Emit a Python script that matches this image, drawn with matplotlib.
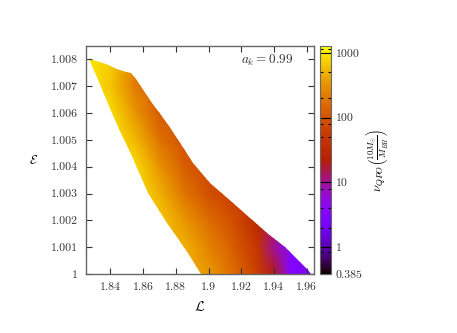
import numpy as np
import matplotlib
matplotlib.use("Agg")
import matplotlib.pyplot as plt
from matplotlib.colors import LogNorm
from matplotlib.patches import Polygon
from matplotlib.ticker import FixedLocator, NullFormatter

plt.rcParams['font.family'] = 'serif'
plt.rcParams['font.serif'] = ['cmr10', 'DejaVu Serif']
plt.rcParams['mathtext.fontset'] = 'cm'
plt.rcParams['axes.unicode_minus'] = False

# ---- data ----
L_grid = [1.825, 1.84, 1.855, 1.87, 1.885, 1.90, 1.915, 1.93, 1.94, 1.95, 1.965]
E_grid = [1.000, 1.001, 1.002, 1.003, 1.004, 1.005, 1.006, 1.007, 1.0085]
nu_rows = [
    [450, 450, 450, 450, 450, 350, 170, 60, 20, 3.5, 2.2],    # E=1.000
    [550, 550, 550, 550, 500, 260, 130, 45, 10, 3.5, 3.0],    # E=1.001
    [750, 750, 750, 700, 340, 170, 90, 32, 15, 12, 12],       # E=1.002
    [900, 900, 900, 500, 200, 95, 60, 45, 45, 45, 45],        # E=1.003
    [900, 900, 850, 320, 130, 80, 70, 70, 70, 70, 70],        # E=1.004
    [1000, 1000, 550, 190, 95, 90, 90, 90, 90, 90, 90],       # E=1.005
    [1000, 900, 330, 120, 110, 110, 110, 110, 110, 110, 110], # E=1.006
    [1000, 650, 220, 150, 150, 150, 150, 150, 150, 150, 150], # E=1.007
    [1000, 750, 250, 200, 200, 200, 200, 200, 200, 200, 200], # E=1.0085
]
# region boundary (upper/right edge, from top-left to bottom-right)
upper_L = [1.8269, 1.8310, 1.8371, 1.8443, 1.8494, 1.8524, 1.8555, 1.8657, 1.8759,
           1.8861, 1.8906, 1.9008, 1.9151, 1.9355, 1.9470, 1.9560, 1.9610, 1.9625]
upper_E = [1.00801, 1.00795, 1.00782, 1.00764, 1.00754, 1.00751, 1.00727, 1.00639, 1.00552,
           1.00453, 1.00413, 1.00338, 1.00264, 1.00152, 1.00100, 1.00045, 1.00015, 1.0000]
# lower/left edge, from top-left to bottom
lower_L = [1.8269, 1.8330, 1.8391, 1.8453, 1.8524, 1.8630, 1.8743, 1.8865, 1.8957]
lower_E = [1.00801, 1.00714, 1.00627, 1.00540, 1.00447, 1.00301, 1.00189, 1.00090, 1.0000]

x_ticks = [1.84, 1.86, 1.88, 1.90, 1.92, 1.94, 1.96]
x_tick_labels = ['1.84', '1.86', '1.88', '1.9', '1.92', '1.94', '1.96']
y_ticks = [1.000, 1.001, 1.002, 1.003, 1.004, 1.005, 1.006, 1.007, 1.008]
y_tick_labels = ['1', '1.001', '1.002', '1.003', '1.004', '1.005', '1.006', '1.007', '1.008']
cb_ticks = [0.385, 1, 10, 100, 1000]
cb_tick_labels = ['0.385', '1', '10', '100', '1000']
cb_minor_ticks = [0.84, 2, 4, 8, 50, 80, 200, 500, 1130]
nu_min, nu_max = 0.385, 1280

fig = plt.figure(figsize=(4.57, 3.33), dpi=100)
ax = fig.add_axes([0.188, 0.177, 0.499, 0.685])

LL, EE = np.meshgrid(L_grid, E_grid)
C = np.array(nu_rows, dtype=float)
norm = LogNorm(vmin=nu_min, vmax=nu_max)
mesh = ax.pcolormesh(LL, EE, C, cmap='gnuplot', norm=norm, shading='gouraud')

poly_pts = list(zip(upper_L, upper_E)) + list(zip(lower_L[::-1], lower_E[::-1]))
clip = Polygon(poly_pts, closed=True, transform=ax.transData, facecolor='none', edgecolor='none')
ax.add_patch(clip)
mesh.set_clip_path(clip)

ax.set_xlim(1.825, 1.9645)
ax.set_ylim(1.0, 1.0085)
ax.xaxis.set_major_locator(FixedLocator(x_ticks))
ax.set_xticklabels(x_tick_labels)
ax.yaxis.set_major_locator(FixedLocator(y_ticks))
ax.set_yticklabels(y_tick_labels)
ax.tick_params(direction='in', top=True, right=True, length=4, width=0.8,
               labelsize=8.5, colors='#333333', pad=6)
for s in ax.spines.values():
    s.set_color('#666666')
    s.set_linewidth(1.0)

ax.set_xlabel(r'$\mathcal{L}$', fontsize=10, labelpad=6)
ax.set_ylabel(r'$\mathcal{E}$', fontsize=9, rotation=0, labelpad=12, va='center')
ax.text(0.91, 0.935, r'$a_k = 0.99$', transform=ax.transAxes, ha='right', va='center',
        fontsize=9.5, color='#333333')

cax = fig.add_axes([0.700, 0.177, 0.024, 0.685])
cb = fig.colorbar(mesh, cax=cax)
cb.set_ticks(cb_ticks)
cb.set_ticklabels(cb_tick_labels)
cax.yaxis.set_minor_locator(FixedLocator(cb_minor_ticks))
cax.yaxis.set_minor_formatter(NullFormatter())
cax.tick_params(which='both', direction='in', left=True, right=True, colors='black',
                labelcolor='#333333', labelsize=8.5, width=0.8)
cax.tick_params(which='major', length=4)
cax.tick_params(which='minor', length=2.5)
cb.outline.set_edgecolor('#666666')
cb.set_label(r'$\nu_{QPO}\left(\frac{10M_{\odot}}{M_{BH}}\right)$', fontsize=9,
             rotation=90, labelpad=1)

fig.savefig('out.png', dpi=100)
